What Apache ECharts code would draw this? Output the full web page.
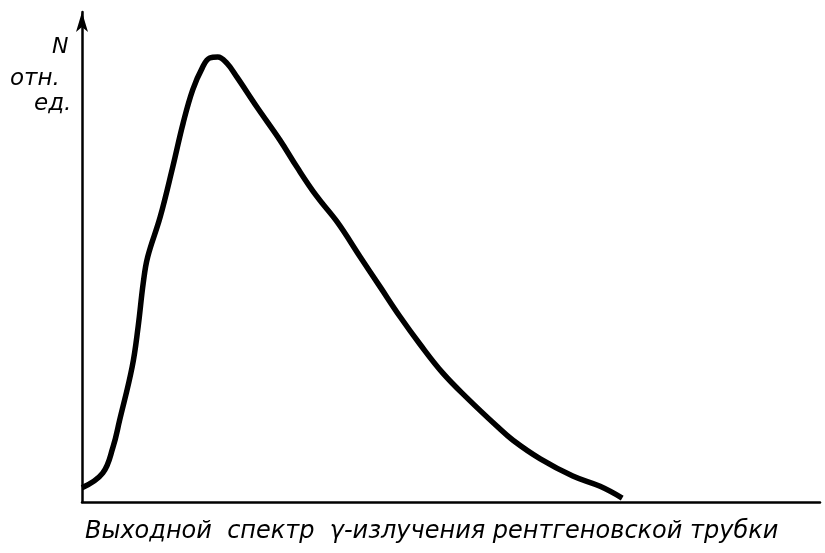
<!DOCTYPE html>
<html>
<head>
<meta charset="utf-8">
<script src="https://cdn.jsdelivr.net/npm/echarts@6/dist/echarts.min.js"></script>
<style>html,body{margin:0;padding:0;background:#fff}#c{width:825px;height:553px}</style>
</head>
<body>
<div id="c"></div>
<script>
// Relative energy (x, % of axis length) and relative intensity N (y, % of axis height)
const energy = [0, 2.8, 4.2, 5.1, 6.8, 7.6, 8.3, 8.9, 10.6, 12.3, 13.7, 15.0, 16.3, 17.3, 18.4, 19.6, 21.0, 23.7, 26.8, 29.1, 31.8, 34.6, 37.7, 40.4, 43.1, 45.8, 48.9, 52.2, 56.2, 58.4, 62.1, 66.5, 70.2, 73.2];
const intensity = [2.9, 5.9, 11.2, 16.7, 27.6, 35.7, 44.7, 50.0, 58.2, 68.4, 77.3, 84.1, 88.6, 90.6, 90.8, 89.6, 86.7, 80.6, 73.9, 68.4, 62.4, 57.1, 50.0, 43.9, 37.8, 32.2, 26.3, 21.2, 15.5, 12.6, 8.8, 5.3, 3.2, 0.8];
const yLabelLines = ["N", "отн.", "ед."];
const caption = "Выходной  спектр  γ-излучения рентгеновской трубки";

const data = energy.map((x, i) => [x, intensity[i]]);
const chart = echarts.init(document.getElementById('c'), null, {renderer: 'canvas'});
const fontFam = "'DejaVu Sans', sans-serif";
chart.setOption({
  backgroundColor: '#ffffff',
  animation: false,
  grid: {left: 82, right: 5, top: 12, bottom: 51},
  xAxis: {
    type: 'value', min: 0, max: 100,
    axisLine: {show: true, lineStyle: {color: '#000', width: 2.5}},
    axisTick: {show: false}, axisLabel: {show: false}, splitLine: {show: false}
  },
  yAxis: {
    type: 'value', min: 0, max: 100,
    axisLine: {show: true, symbol: ['none', 'arrow'], symbolSize: [9, 20], symbolOffset: [0, 0], lineStyle: {color: '#000', width: 2.5}},
    axisTick: {show: false}, axisLabel: {show: false}, splitLine: {show: false}
  },
  series: [{
    type: 'line', data: data, smooth: 0.4, symbol: 'none',
    lineStyle: {color: '#000', width: 5.5}
  }],
  graphic: [
    {type: 'text', left: 52, top: 36, style: {text: yLabelLines[0], font: "italic 22px " + fontFam, fill: '#000'}},
    {type: 'text', left: 10, top: 68, style: {text: yLabelLines[1], font: "italic 23px " + fontFam, fill: '#000'}},
    {type: 'text', left: 34, top: 93, style: {text: yLabelLines[2], font: "italic 23px " + fontFam, fill: '#000'}},
    {type: 'text', left: 85, top: 520, style: {text: caption, font: "italic 24px " + fontFam, fill: '#000'}}
  ]
});
</script>
</body>
</html>
